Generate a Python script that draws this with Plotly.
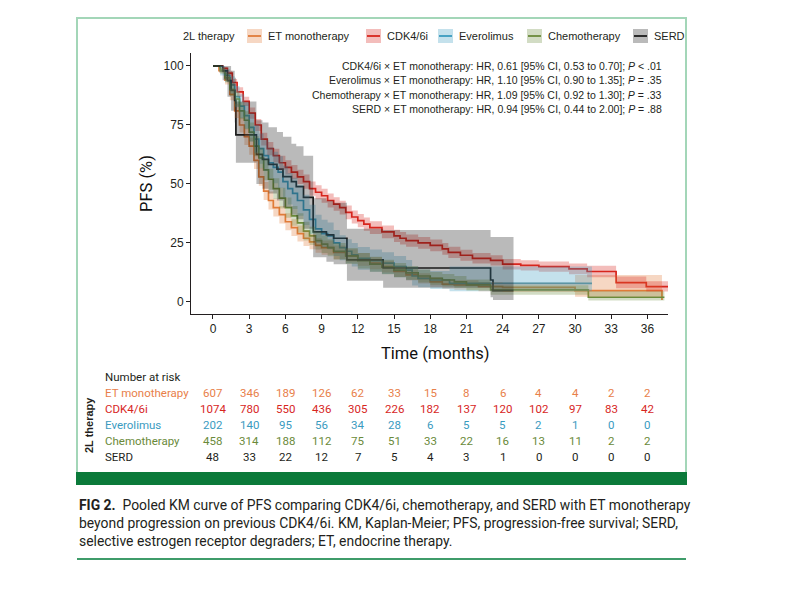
import plotly.graph_objects as go

# ---------------- data ----------------
groups = ["ET monotherapy", "CDK4/6i", "Everolimus", "Chemotherapy", "SERD"]
line_colors = ["#E07B39", "#D7261E", "#3A9BBF", "#6A8A3A", "#1A1A1A"]
band_colors = ["rgba(224,123,57,0.30)", "rgba(215,38,30,0.30)", "rgba(58,155,191,0.30)",
               "rgba(106,138,58,0.30)", "rgba(26,26,26,0.30)"]

t_et = [0, 0.5, 1.0, 1.4, 1.8, 2.2, 2.6, 3.0, 3.4, 3.8, 4.2, 4.6, 5.0, 5.5, 6.0, 6.5, 7.0, 7.5, 8.0,
        8.5, 9.0, 10.0, 11.0, 12.0, 13.0, 14.0, 15.0, 16.0, 17.0, 18.0, 19.0, 20.0, 22.0, 24.0, 30.0, 37.2]
s_et = [100, 98, 94, 88, 81, 75, 70, 66, 60, 53, 47, 43, 40, 37, 34, 31.5, 29, 27, 25.5,
        24, 23, 21, 19.5, 18, 16.5, 15, 13, 11.5, 10, 8.5, 7.6, 7.2, 6.5, 6.2, 4.8, 0.8]
lo_et = [100, 97, 92.2, 85.5, 78, 71.8, 66.5, 62.4, 56.3, 49.2, 43.2, 39.2, 36.2, 33.3, 30.4, 28, 25.6, 23.7, 22.3,
         20.9, 20, 18.1, 16.7, 15.3, 13.9, 12.5, 10.6, 9.2, 7.8, 6.4, 5.6, 5.2, 4.5, 4.2, 2.2, 2.2]
hi_et = [100, 99, 95.8, 90.5, 84, 78.2, 73.5, 69.6, 63.7, 56.8, 50.8, 46.8, 43.8, 40.7, 37.6, 35, 32.4, 30.3, 28.7,
         27.1, 26, 23.9, 22.3, 20.7, 19.1, 17.5, 15.4, 13.8, 12.2, 10.6, 9.6, 9.2, 8.5, 8.2, 11.4, 11.4]

t_cdk = [0, 0.8, 1.2, 1.6, 2.0, 2.5, 3.0, 3.5, 4.0, 4.5, 5.0, 5.5, 6.0, 6.5, 7.0, 7.5, 8.0, 8.5, 9.0, 9.5,
         10.0, 10.5, 11.0, 11.5, 12.0, 12.5, 13.0, 14.0, 15.0, 15.5, 16.0, 17.0, 18.0, 19.0, 19.5, 20.5,
         21.5, 23.0, 24.0, 25.5, 27.0, 29.5, 31.0, 33.4, 35.9, 37.7]
s_cdk = [100, 99, 97, 93, 89, 85, 80, 75, 69, 65, 62, 59, 57, 55, 53, 51, 48, 46.5, 45, 43,
         41.5, 40, 38, 36, 34.5, 33, 31.5, 29.7, 28, 27, 26, 25, 24, 22.5, 21, 19.8,
         18.5, 17.6, 16, 15.5, 15, 14, 12.9, 8.2, 6.5, 6.5]
lo_cdk = [100, 98.4, 96, 91.5, 87, 83, 77.6, 72.5, 66.3, 62.2, 59.1, 56, 54, 52, 50, 48, 45, 43.5, 42, 40,
          38.6, 37.1, 35.1, 33.2, 31.7, 30.2, 28.8, 27, 25.4, 24.4, 23.4, 22.5, 21.5, 20, 18.6, 17.5,
          16.3, 15.4, 13.8, 13.3, 12.8, 11.7, 10.5, 5.8, 4.4, 4.4]
hi_cdk = [100, 99.6, 98, 94.5, 91, 87, 82.4, 77.5, 71.7, 67.8, 64.9, 62, 60, 58, 56, 54, 51, 49.5, 48, 46,
          44.4, 42.9, 40.9, 38.8, 37.3, 35.8, 34.2, 32.4, 30.6, 29.6, 28.6, 27.5, 26.5, 25, 23.4, 22.1,
          20.7, 19.8, 18.2, 17.7, 17.2, 16.3, 15.3, 10.8, 8.8, 8.8]

t_ev = [0, 0.6, 1.0, 1.4, 1.8, 2.2, 2.6, 3.0, 3.4, 3.8, 4.2, 4.6, 5.0, 5.4, 5.8, 6.2, 6.6, 7.0, 7.5, 8.0,
        8.5, 9.0, 9.5, 10.0, 10.5, 11.0, 11.5, 12.0, 13.0, 14.0, 15.0, 16.0, 16.5, 17.0, 18.0, 19.6, 31.4]
s_ev = [100, 98, 96, 92, 87, 83, 79, 74, 69, 65, 62, 59, 57, 55, 51, 48, 46, 43, 39, 35,
        31, 29, 28, 25, 23, 21.5, 20, 18.5, 17.5, 16.5, 15, 13.5, 11, 10, 9.3, 7.9, 7.9]
lo_ev = [100, 96, 93.3, 88.3, 82.5, 78, 73.5, 68, 63, 58.6, 55.5, 52.4, 50.3, 48.3, 44.3, 41.3, 39.4, 36.5, 32.6, 28.8,
         25, 23.2, 22.3, 19.5, 17.7, 16.4, 15, 13.7, 12.8, 11.9, 10.5, 9.2, 7, 6.2, 5.5, 4.5, 4.5]
hi_ev = [100, 100, 98.7, 95.7, 91.5, 88, 84.5, 80, 75, 71.4, 68.5, 65.6, 63.7, 61.7, 57.7, 54.7, 52.6, 49.5, 45.4, 41.2,
         37, 34.8, 33.7, 30.5, 28.3, 26.6, 25, 23.3, 22.2, 21.1, 19.5, 17.8, 15, 13.8, 13.1, 15, 15]

t_ch = [0, 0.6, 1.0, 1.4, 1.8, 2.2, 2.6, 3.0, 3.4, 3.8, 4.2, 4.6, 5.0, 5.5, 6.0, 6.5, 7.0, 7.5, 8.0, 8.5,
        9.0, 9.5, 10.0, 11.0, 12.0, 13.0, 14.0, 15.0, 16.0, 17.0, 18.0, 19.0, 20.0, 21.0, 23.0, 31.1, 37.4]
s_ch = [100, 98, 95, 90, 86, 81, 77, 72, 66, 61, 56, 52, 48, 44, 40, 36.5, 33.5, 30, 28, 26,
        24.5, 23, 21.5, 19.5, 17.5, 16, 14.8, 13.5, 12.3, 11, 10, 9.3, 8.5, 7.2, 5.1, 2.0, 2.0]
lo_ch = [100, 96.7, 93, 87.3, 82.8, 77.4, 73.2, 68, 61.8, 56.7, 51.6, 47.6, 43.6, 39.6, 35.7, 32.3, 29.4, 26, 24.1, 22.2,
         20.8, 19.4, 18, 16.1, 14.2, 12.8, 11.7, 10.5, 9.4, 8.2, 7.3, 6.7, 6, 4.9, 3.1, 0.6, 0.6]
hi_ch = [100, 99.3, 97, 92.7, 89.2, 84.6, 80.8, 76, 70.2, 65.3, 60.4, 56.4, 52.4, 48.4, 44.3, 40.7, 37.6, 34, 31.9, 29.8,
         28.2, 26.6, 25, 22.9, 20.8, 19.2, 17.9, 16.5, 15.2, 13.8, 12.7, 11.9, 11, 9.5, 7.1, 4.5, 4.5]

t_se = [0, 0.8, 1.2, 1.5, 1.8, 1.9, 3.6, 4.1, 4.6, 5.3, 5.8, 6.5, 6.9, 7.5, 8.3, 9.4, 10.0, 11.1, 14.1, 23.0, 23.2, 24.9]
s_se = [100, 97.9, 93.8, 89.6, 85.4, 70.8, 62.5, 60.4, 58.3, 56.3, 53.1, 51.0, 48.9, 44.3, 29.7, 28.4, 27.0, 17.8,
        14.4, 9.3, 4.8, 4.8]
lo_se = [100, 94, 87, 81, 76, 59, 50, 48, 46, 43, 40, 37, 35, 31, 19, 17, 16, 9, 6, 2, 0.8, 0.8]
hi_se = [100, 100, 100, 98, 95, 85, 77, 76, 74, 72, 70, 67, 66, 62, 44, 43, 42, 31, 30.5, 27.5, 27.5, 27.5]

times = [t_et, t_cdk, t_ev, t_ch, t_se]
surv = [s_et, s_cdk, s_ev, s_ch, s_se]
lows = [lo_et, lo_cdk, lo_ev, lo_ch, lo_se]
highs = [hi_et, hi_cdk, hi_ev, hi_ch, hi_se]

risk_times = [0, 3, 6, 9, 12, 15, 18, 21, 24, 27, 30, 33, 36]
risk_et = [607, 346, 189, 126, 62, 33, 15, 8, 6, 4, 4, 2, 2]
risk_cdk = [1074, 780, 550, 436, 305, 226, 182, 137, 120, 102, 97, 83, 42]
risk_ev = [202, 140, 95, 56, 34, 28, 6, 5, 5, 2, 1, 0, 0]
risk_ch = [458, 314, 188, 112, 75, 51, 33, 22, 16, 13, 11, 2, 2]
risk_se = [48, 33, 22, 12, 7, 5, 4, 3, 1, 0, 0, 0, 0]
risk_rows = [risk_et, risk_cdk, risk_ev, risk_ch, risk_se]
risk_text_colors = ["#E8804A", "#D7261E", "#3A9BBF", "#6A8A3A", "#231F20"]

hr_lines = [
    "CDK4/6i × ET monotherapy: HR, 0.61 [95% CI, 0.53 to 0.70]; <i>P</i> &lt; .01",
    "Everolimus × ET monotherapy: HR, 1.10 [95% CI, 0.90 to 1.35]; <i>P</i> = .35",
    "Chemotherapy × ET monotherapy: HR, 1.09 [95% CI, 0.92 to 1.30]; <i>P</i> = .33",
    "SERD × ET monotherapy: HR, 0.94 [95% CI, 0.44 to 2.00]; <i>P</i> = .88",
]
caption_lines = [
    "<b>FIG 2.</b>  Pooled KM curve of PFS comparing CDK4/6i, chemotherapy, and SERD with ET monotherapy",
    "beyond progression on previous CDK4/6i. KM, Kaplan-Meier; PFS, progression-free survival; SERD,",
    "selective estrogen receptor degraders; ET, endocrine therapy.",
]

# ---------------- layout helpers (pixel -> paper) ----------------
W, H = 800, 590
L, R, T, B = 191, 668, 53, 314


def px(x):
    return (x - L) / (R - L)


def py(y):
    return (B - y) / (B - T)


COND = "Roboto, sans-serif"
SANS = "Liberation Sans, Arial, sans-serif"

fig = go.Figure()

# survival lines first (ribbons drawn over them, as in the reference)
for i in range(len(groups)):
    fig.add_trace(go.Scatter(x=times[i], y=surv[i], mode="lines", line_shape="hv",
                             line=dict(color=line_colors[i], width=1.7), showlegend=False,
                             hoverinfo="skip"))
for i in range(len(groups)):
    fig.add_trace(go.Scatter(x=times[i], y=highs[i], mode="lines", line_shape="hv",
                             line=dict(width=0, color=band_colors[i]), showlegend=False, hoverinfo="skip"))
    fig.add_trace(go.Scatter(x=times[i], y=lows[i], mode="lines", line_shape="hv",
                             line=dict(width=0, color=band_colors[i]), fill="tonexty",
                             fillcolor=band_colors[i], showlegend=False, hoverinfo="skip"))

annotations = []
shapes = []

# HR text
for k, txt in enumerate(hr_lines):
    annotations.append(dict(text=txt, xref="paper", yref="paper", x=px(664), y=py(66 + 14.4 * k),
                            xanchor="right", yanchor="middle", showarrow=False,
                            font=dict(family=SANS, size=10.5, color="#231F20")))

# axis titles
annotations.append(dict(text="Time (months)", xref="paper", yref="paper", x=px(435), y=py(353),
                        xanchor="center", yanchor="middle", showarrow=False,
                        font=dict(family=COND, size=16.5, color="#111")))
annotations.append(dict(text="PFS (%)", xref="paper", yref="paper", x=px(146), y=py(184),
                        xanchor="center", yanchor="middle", showarrow=False, textangle=-90,
                        font=dict(family=COND, size=16.5, color="#111")))

# legend (manual, ggplot style)
annotations.append(dict(text="2L therapy", xref="paper", yref="paper", x=px(237), y=py(36),
                        xanchor="right", yanchor="middle", showarrow=False,
                        font=dict(family=SANS, size=11, color="#231F20")))
key_x = [247, 366, 438, 527, 633]
for i, g in enumerate(groups):
    kx = key_x[i]
    shapes.append(dict(type="rect", xref="paper", yref="paper", x0=px(kx), x1=px(kx + 15),
                       y0=py(43), y1=py(29), line=dict(width=0), fillcolor=band_colors[i], layer="above"))
    shapes.append(dict(type="line", xref="paper", yref="paper", x0=px(kx + 1), x1=px(kx + 14),
                       y0=py(36), y1=py(36), line=dict(width=1.8, color=line_colors[i]), layer="above"))
    annotations.append(dict(text=g, xref="paper", yref="paper", x=px(kx + 19), y=py(36),
                            xanchor="left", yanchor="middle", showarrow=False,
                            font=dict(family=SANS, size=11, color="#231F20")))

# risk table
annotations.append(dict(text="Number at risk", xref="paper", yref="paper", x=px(103), y=py(377),
                        xanchor="left", yanchor="middle", showarrow=False,
                        font=dict(family=COND, size=11.5, color="#231F20")))
row_y = [393, 409, 425, 441, 457]
for i, g in enumerate(groups):
    annotations.append(dict(text=g, xref="paper", yref="paper", x=px(103), y=py(row_y[i]),
                            xanchor="left", yanchor="middle", showarrow=False,
                            font=dict(family=COND, size=11.5, color=risk_text_colors[i])))
    for tt, n in zip(risk_times, risk_rows[i]):
        annotations.append(dict(text=str(n), xref="x", yref="paper", x=tt, y=py(row_y[i]),
                                xanchor="center", yanchor="middle", showarrow=False,
                                font=dict(family=COND, size=11.5, color=risk_text_colors[i])))
annotations.append(dict(text="<b>2L therapy</b>", xref="paper", yref="paper", x=px(89), y=py(425),
                        xanchor="center", yanchor="middle", showarrow=False, textangle=-90,
                        font=dict(family=SANS, size=11, color="#231F20")))

# frame, green bar, caption
shapes.append(dict(type="rect", xref="paper", yref="paper", x0=px(77), x1=px(686), y0=py(473), y1=py(18),
                   line=dict(color="#A3D6B8", width=2), fillcolor="rgba(0,0,0,0)", layer="below"))
shapes.append(dict(type="rect", xref="paper", yref="paper", x0=px(76), x1=px(687), y0=py(485), y1=py(472),
                   line=dict(width=0), fillcolor="#0B7A3A", layer="below"))
shapes.append(dict(type="line", xref="paper", yref="paper", x0=px(77), x1=px(686), y0=py(559), y1=py(559),
                   line=dict(color="#3F9C6A", width=2), layer="below"))
for k, txt in enumerate(caption_lines):
    annotations.append(dict(text=txt, xref="paper", yref="paper", x=px(77), y=py(505 + 18 * k),
                            xanchor="left", yanchor="middle", showarrow=False,
                            font=dict(family=COND, size=13.9, color="#231F20")))

axis_common = dict(showline=True, linecolor="#231F20", linewidth=1, ticks="outside", ticklen=4,
                   tickcolor="#231F20", showgrid=False, zeroline=False,
                   tickfont=dict(family=SANS, size=12, color="#231F20"))
fig.update_layout(
    width=W, height=H,
    margin=dict(l=L, r=W - R, t=T, b=H - B, pad=0),
    paper_bgcolor="white", plot_bgcolor="white",
    xaxis=dict(range=[-1.82, 37.7], tickvals=risk_times, **axis_common),
    yaxis=dict(range=[-5.1, 105.5], tickvals=[0, 25, 50, 75, 100], **axis_common),
    annotations=annotations, shapes=shapes, showlegend=False,
)

fig.write_html("out.html", config={"displayModeBar": False},
               post_script="document.body.style.margin='0px';")
